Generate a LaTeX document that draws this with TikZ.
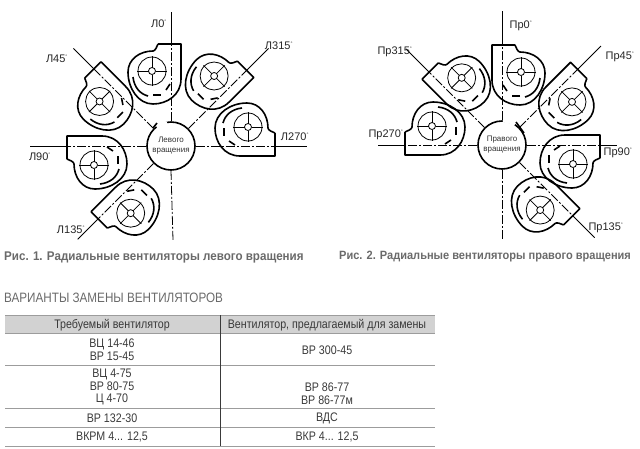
\documentclass[tikz,border=0pt]{standalone}
\usepackage{fontspec}
\setmainfont{Liberation Sans}
\newfontfamily\narrowfont[FakeStretch=0.86]{Liberation Sans}
\newfontfamily\capfont[FakeStretch=0.92]{Liberation Sans}
\usetikzlibrary{positioning}
\definecolor{capgray}{HTML}{6A6A6A}
\definecolor{textgray}{HTML}{3A3A3A}
\definecolor{rulegray}{HTML}{9C9C9C}
\definecolor{headgray}{HTML}{D2D2D2}
\newcommand{\dg}{\textsuperscript{\tiny°}}
\tikzset{
  axisline/.style = {line width=0.8pt, dash pattern=on 9pt off 2pt on 2pt off 2pt},
  heavy/.style = {line width=1.6pt, line join=round},
  thin line/.style = {line width=0.8pt},
  pics/fan/.style n args = {2}{code = {
      \coordinate (-out) at (0,#1+27);
      \coordinate (-end) at (0,#2);
      \draw[line width=1pt] (-out) -- (-end);
      \begin{scope}[shift={(-19,#1)}]
        \draw[heavy] (6,27) -- (29,27) -- (29,-8)
          .. controls (29,-24) and (15,-33) .. (1,-33)
          .. controls (-14,-33) and (-24,-17) .. (-24,-1)
          .. controls (-24,12) and (-12,20) .. (1,20)
          .. controls (3,20) and (5,24) .. (6,27);
        \draw[thin line] (0,0) circle[radius=14];
        \draw[thin line] (0,0) circle[radius=3.5];
        \draw[thin line] (-15,0) -- (-3.5,0) (3.5,0) -- (15,0) (0,-15) -- (0,-3.5) (0,3.5) -- (0,15);
        \draw[heavy] (-19,-6) .. controls (-18,-16) and (-12,-23) .. (-4,-25);
        \draw[heavy] (1,-24) -- (9,-24);
        \draw[heavy] (14,-19) -- (18,-13);
      \end{scope}
    }},
  fanlabel/.style = {font=\fontsize{11}{13}\selectfont, text=black!85, inner sep=0pt},
  hubnode/.style = {circle, draw, line width=1.6pt, minimum size=48pt, inner sep=0pt, align=center,
      font=\fontsize{8}{10}\selectfont, text=black!80},
  caption/.style = {font=\capfont\fontsize{12.6}{14}\selectfont\bfseries, text=capgray, anchor=west, inner sep=0pt},
  cell/.style = {font=\narrowfont\fontsize{12.4}{12.8}\selectfont, text=textgray, align=center, inner sep=0pt},
  rowrule/.style = {rulegray, line width=1pt}
}
\begin{document}
\begin{tikzpicture}[x=1pt, y=1pt]

      \useasboundingbox (0,0) rectangle (640,-448);

      % left group
      \node[hubnode] (hubL) at (171,-146) {Левого\\вращения};
      \draw[white, line width=3pt] ([shift={(100:24)}]hubL.center) arc (100:127:24);
      \draw[heavy] ([shift={(-18,18)}]hubL.center) -- ([shift={(-14,23)}]hubL.center);

      \pic (fanL0) at (hubL) {fan={75}{134}};
      \pic[rotate=45] (fanL45) at (hubL) {fan={82}{138}};
      \pic[rotate=90] (fanL90) at (hubL) {fan={77}{141}};
      \pic[rotate=135] (fanL135) at (hubL) {fan={76}{132}};
      \pic[rotate=-90] (fanL270) at (hubL) {fan={77}{136}};
      \pic[rotate=-45] (fanL315) at (hubL) {fan={80}{138}};

      \draw[axisline] (hubL) -- (fanL0-out);
      \draw[axisline] (hubL) -- (fanL45-out);
      \draw[axisline] (hubL) -- (fanL90-out);
      \draw[axisline] (hubL) -- (fanL135-out);
      \draw[axisline] (hubL) -- (fanL270-out);
      \draw[axisline] (hubL) -- (fanL315-out);

      \coordinate (downL) at (173,-240);
      \draw[axisline] (hubL.south) -- (downL);

      \node[fanlabel] (labL0) at (159,-24) {Л0\dg};
      \node[fanlabel] (labL45) at (57,-59) {Л45\dg};
      \node[fanlabel] (labL90) at (40,-157) {Л90\dg};
      \node[fanlabel] (labL135) at (71,-230) {Л135\dg};
      \node[fanlabel] (labL270) at (295,-137) {Л270\dg};
      \node[fanlabel] (labL315) at (279,-46) {Л315\dg};

      % right group
      \node[hubnode] (hubR) at (502,-145) {Правого\\вращения};
      \draw[white, line width=3pt] ([shift={(58:24)}]hubR.center) arc (58:88:24);
      \draw[heavy] ([shift={(14,23)}]hubR.center) .. controls ([shift={(18,18)}]hubR.center) .. ([shift={(22,12)}]hubR.center);

      \pic[xscale=-1] (fanR0) at (hubR) {fan={73}{134}};
      \pic[rotate=-45, xscale=-1] (fanR45) at (hubR) {fan={80}{140}};
      \pic[rotate=-90, xscale=-1] (fanR90) at (hubR) {fan={71}{115}};
      \pic[rotate=-135, xscale=-1] (fanR135) at (hubR) {fan={73}{131}};
      \pic[rotate=90, xscale=-1] (fanR270) at (hubR) {fan={70}{124}};
      \pic[rotate=45, xscale=-1] (fanR315) at (hubR) {fan={76}{136}};

      \draw[axisline] (hubR) -- (fanR0-out);
      \draw[axisline] (hubR) -- (fanR45-out);
      \draw[axisline] (hubR) -- (fanR90-out);
      \draw[axisline] (hubR) -- (fanR135-out);
      \draw[axisline] (hubR) -- (fanR270-out);
      \draw[axisline] (hubR) -- (fanR315-out);

      \coordinate (downR) at (502,-240);
      \draw[axisline] (hubR.south) -- (downR);

      \node[fanlabel] (labR0) at (521,-26) {Пр0\dg};
      \node[fanlabel] (labR45) at (620,-57) {Пр45\dg};
      \node[fanlabel] (labR90) at (618,-153) {Пр90\dg};
      \node[fanlabel] (labR135) at (606,-228) {Пр135\dg};
      \node[fanlabel] (labR270) at (386,-135) {Пр270\dg};
      \node[fanlabel] (labR315) at (395,-52) {Пр315\dg};

      % captions
      \node[caption] (capL) at (4,-257) {Рис. 1. Радиальные вентиляторы левого вращения};
      \node[caption, font=\capfont\fontsize{12}{14}\selectfont\bfseries] (capR) at (339,-257) {Рис. 2. Радиальные вентиляторы правого вращения};
      \node[caption, font=\narrowfont\fontsize{13.6}{14}\selectfont] (title) at (4,-298) {ВАРИАНТЫ ЗАМЕНЫ ВЕНТИЛЯТОРОВ};

      % table
      \fill[headgray] (5,-315) rectangle (435,-333);
      \draw[rowrule] (5,-315) -- (435,-315);
      \draw[rowrule] (5,-333) -- (435,-333);
      \draw[rowrule] (5,-365) -- (435,-365);
      \draw[rowrule] (5,-408) -- (435,-408);
      \draw[rowrule] (5,-427) -- (435,-427);
      \draw[rowrule] (5,-446) -- (435,-446);
      \draw[textgray, line width=0.5pt] (220,-315) -- (220,-446);

      \node[cell] (headA) at (112,-325) {Требуемый вентилятор};
      \node[cell] (headB) at (327,-325) {Вентилятор, предлагаемый для замены};
      \node[cell] (rowA) at (112,-349.5) {ВЦ 14-46\\ВР 15-45};
      \node[cell] (repA) at (327,-350) {ВР 300-45};
      \node[cell] (rowB) at (112,-387) {ВЦ 4-75\\ВР 80-75\\Ц 4-70};
      \node[cell] (repB) at (327,-393.5) {ВР 86-77\\ВР 86-77м};
      \node[cell] (rowC) at (112,-418) {ВР 132-30};
      \node[cell] (repC) at (327,-418) {ВДС};
      \node[cell] (rowD) at (112,-437) {ВКРМ 4... 12,5};
      \node[cell] (repD) at (327,-437) {ВКР 4... 12,5};

    \end{tikzpicture}
\end{document}
